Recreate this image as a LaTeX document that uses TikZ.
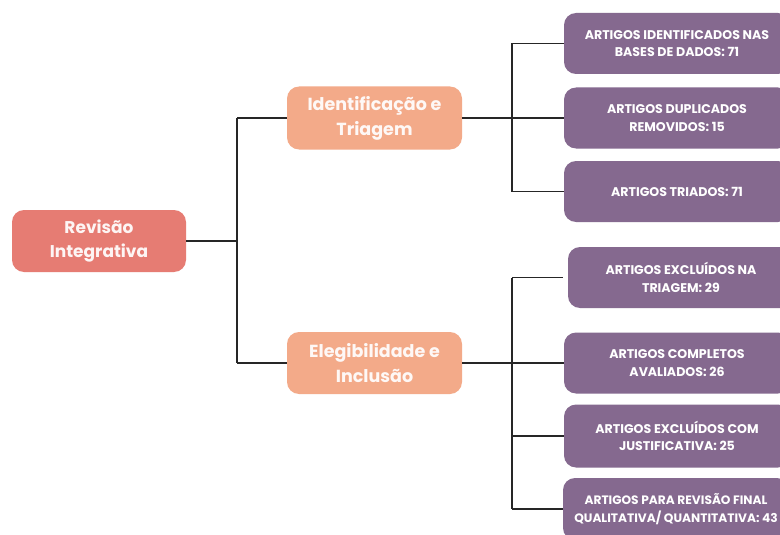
\documentclass[tikz,border=0pt]{standalone}
\usepackage{fontspec}
\setmainfont{Poppins}
\begin{document}
\begin{tikzpicture}[x=1pt,y=-1pt,
  conn/.style={draw=black!85, line width=1.8pt},
  rootbox/.style={fill=rootc, rounded corners=12pt, text=white!92!rootc, font=\bfseries\fontsize{17}{24}\selectfont, align=center, inner sep=0pt},
  midbox/.style={fill=midc, rounded corners=12pt, text=white!92!midc, font=\bfseries\fontsize{17.5}{25}\selectfont, align=center, inner sep=0pt},
  leafbox/.style={fill=leafc, rounded corners=12pt, text=white, font=\bfseries\fontsize{12.6}{17.5}\selectfont, align=center, inner sep=0pt, minimum width=226pt, minimum height=61pt}
]
\definecolor{rootc}{HTML}{E67C73}
\definecolor{midc}{HTML}{F3AA89}
\definecolor{leafc}{HTML}{85698F}
\useasboundingbox (0,0) rectangle (780,535);
\clip (0,0) rectangle (780,535);
\fill[white] (0,0) rectangle (780,535);

\node[rootbox, minimum width=174pt, minimum height=62pt] (root) at (99,241) {Revisão\\Integrativa};
\node[midbox, minimum width=175pt, minimum height=63pt] (ident) at (374.5,118) {Identificação e\\Triagem};
\node[midbox, minimum width=175pt, minimum height=62pt] (eleg) at (374.5,363) {Elegibilidade e\\Inclusão};

\node[leafbox] (a1) at (677,43.5) {ARTIGOS IDENTIFICADOS NAS\\BASES DE DADOS: 71};
\node[leafbox] (a2) at (677,118) {ARTIGOS DUPLICADOS\\REMOVIDOS: 15};
\node[leafbox] (a3) at (677,191.5) {ARTIGOS TRIADOS: 71};
\node[leafbox] (b1) at (681,277.5) {ARTIGOS EXCLUÍDOS NA\\TRIAGEM: 29};
\node[leafbox] (b2) at (677,363) {ARTIGOS COMPLETOS\\AVALIADOS: 26};
\node[leafbox, minimum height=63pt] (b3) at (677,436) {ARTIGOS EXCLUÍDOS COM\\JUSTIFICATIVA: 25};
\node[leafbox, minimum height=62pt, font=\bfseries\fontsize{12.2}{17.5}\selectfont] (b4) at (676,509) {ARTIGOS PARA REVISÃO FINAL\\QUALITATIVA/ QUANTITATIVA: 43};

\coordinate (j0) at (237,241);
\coordinate (j1) at (512,118);
\coordinate (j2) at (512,363);

\draw[conn] (root.east |- j0) -- (j0);
\draw[conn] (j0 |- ident.west) -- (j0 |- eleg.west);
\draw[conn] (j0 |- ident.west) -- (ident.west);
\draw[conn] (j0 |- eleg.west) -- (eleg.west);

\draw[conn] (ident.east) -- (j1);
\draw[conn] (j1 |- a1.west) -- (j1 |- a3.west);
\draw[conn] (j1 |- a1.west) -- (a1.west);
\draw[conn] (j1 |- a2.west) -- (a2.west);
\draw[conn] (j1 |- a3.west) -- (a3.west);

\draw[conn] (eleg.east) -- (j2);
\draw[conn] (j2 |- b1.west) -- (j2 |- b4.west);
\draw[conn] (j2 |- b1.west) -- ([xshift=-5pt]b1.west);
\draw[conn] (j2 |- b2.west) -- (b2.west);
\draw[conn] (j2 |- b3.west) -- (b3.west);
\draw[conn] (j2 |- b4.west) -- (b4.west);
\end{tikzpicture}
\end{document}
